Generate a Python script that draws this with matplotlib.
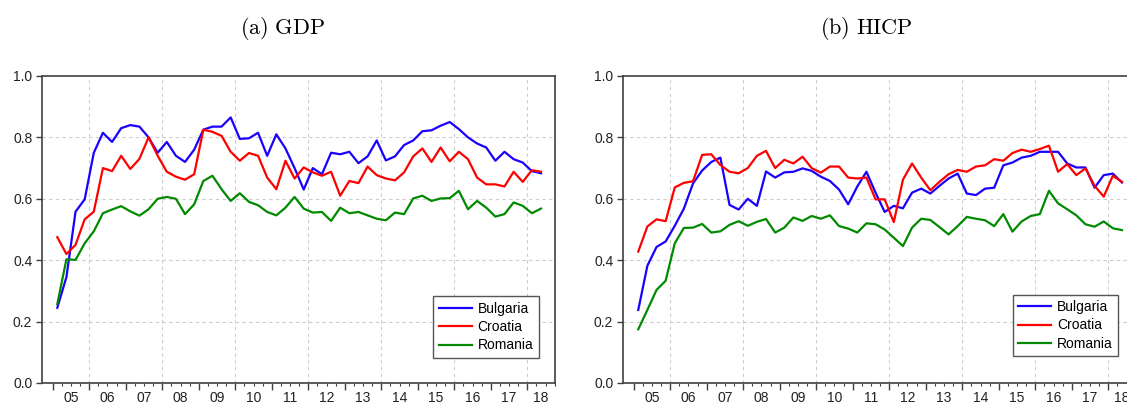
import numpy as np
import matplotlib
matplotlib.use('Agg')
import matplotlib.pyplot as plt
import matplotlib.transforms as mtransforms

plt.rcParams['font.family'] = ['Liberation Sans', 'DejaVu Sans']
plt.rcParams['mathtext.fontset'] = 'cm'

# quarterly observations 2005Q1 .. 2018Q2
start_year = 2005
n_obs = 54
year_labels = ['05', '06', '07', '08', '09', '10', '11', '12', '13', '14', '15', '16', '17', '18']
countries = ['Bulgaria', 'Croatia', 'Romania']
colors = ['#1a00ff', '#ff0000', '#008a00']

gdp_bulgaria = [0.245, 0.345, 0.558, 0.598, 0.75, 0.815, 0.785, 0.83, 0.84, 0.835,
                0.80, 0.75, 0.785, 0.74, 0.72, 0.76, 0.825, 0.835, 0.835, 0.865,
                0.795, 0.797, 0.815, 0.74, 0.81, 0.764, 0.70, 0.63, 0.70, 0.68,
                0.75, 0.745, 0.753, 0.716, 0.738, 0.79, 0.725, 0.738, 0.775, 0.79,
                0.82, 0.823, 0.838, 0.85, 0.827, 0.80, 0.78, 0.767, 0.724, 0.753,
                0.729, 0.718, 0.69, 0.683]
gdp_croatia = [0.475, 0.42, 0.45, 0.533, 0.558, 0.70, 0.69, 0.74, 0.697, 0.73,
               0.80, 0.74, 0.688, 0.672, 0.662, 0.68, 0.825, 0.818, 0.805, 0.753,
               0.724, 0.749, 0.74, 0.669, 0.631, 0.724, 0.666, 0.702, 0.686, 0.675,
               0.688, 0.61, 0.658, 0.651, 0.705, 0.677, 0.666, 0.66, 0.686, 0.738,
               0.764, 0.72, 0.767, 0.722, 0.753, 0.729, 0.669, 0.647, 0.647, 0.64,
               0.688, 0.655, 0.693, 0.688]
gdp_romania = [0.257, 0.403, 0.401, 0.455, 0.494, 0.553, 0.565, 0.576, 0.559, 0.545,
               0.566, 0.60, 0.606, 0.60, 0.55, 0.582, 0.658, 0.675, 0.631, 0.593,
               0.618, 0.59, 0.579, 0.557, 0.546, 0.571, 0.606, 0.568, 0.555, 0.557,
               0.528, 0.571, 0.553, 0.557, 0.546, 0.535, 0.530, 0.555, 0.550, 0.601,
               0.610, 0.593, 0.601, 0.602, 0.626, 0.566, 0.593, 0.571, 0.542, 0.550,
               0.588, 0.577, 0.553, 0.568]

hicp_bulgaria = [0.238, 0.382, 0.443, 0.461, 0.512, 0.568, 0.65, 0.692, 0.72, 0.734,
                 0.58, 0.565, 0.60, 0.577, 0.689, 0.669, 0.686, 0.688, 0.699, 0.691,
                 0.672, 0.658, 0.63, 0.582, 0.64, 0.688, 0.62, 0.557, 0.577, 0.569,
                 0.62, 0.633, 0.617, 0.642, 0.666, 0.682, 0.617, 0.612, 0.633, 0.636,
                 0.709, 0.718, 0.734, 0.74, 0.753, 0.753, 0.753, 0.715, 0.702, 0.702,
                 0.636, 0.677, 0.682, 0.653]
hicp_croatia = [0.428, 0.51, 0.533, 0.527, 0.637, 0.652, 0.657, 0.743, 0.745, 0.71,
                0.688, 0.683, 0.70, 0.74, 0.756, 0.70, 0.727, 0.715, 0.737, 0.70,
                0.685, 0.705, 0.705, 0.669, 0.666, 0.669, 0.598, 0.598, 0.524, 0.662,
                0.715, 0.669, 0.628, 0.655, 0.68, 0.694, 0.688, 0.705, 0.709, 0.729,
                0.724, 0.749, 0.76, 0.753, 0.762, 0.773, 0.688, 0.713, 0.677, 0.699,
                0.642, 0.607, 0.675, 0.655]
hicp_romania = [0.175, 0.238, 0.303, 0.333, 0.455, 0.505, 0.506, 0.518, 0.49, 0.494,
                0.515, 0.527, 0.512, 0.525, 0.534, 0.49, 0.506, 0.539, 0.528, 0.544,
                0.535, 0.546, 0.511, 0.503, 0.49, 0.52, 0.517, 0.50, 0.473, 0.446,
                0.506, 0.535, 0.531, 0.508, 0.484, 0.511, 0.541, 0.535, 0.53, 0.511,
                0.55, 0.493, 0.526, 0.544, 0.55, 0.626, 0.585, 0.566, 0.546, 0.517,
                0.509, 0.526, 0.504, 0.498]

panels = [
    (r'$\mathrm{(a)\ GDP}$', [gdp_bulgaria, gdp_croatia, gdp_romania]),
    (r'$\mathrm{(b)\ HICP}$', [hicp_bulgaria, hicp_croatia, hicp_romania]),
]

x_min, x_max = 2004.707, 2018.76


def draw_panel(ax, series):
    # observation at the middle of each quarter
    t = start_year + np.arange(n_obs) / 4.0 + 0.125
    for values, name, col in zip(series, countries, colors):
        ax.plot(t, values, color=col, linewidth=1.6, label=name)

    years = np.arange(start_year, start_year + len(year_labels))
    ax.set_xticks(years)
    ax.set_xticklabels([])
    # quarter ticks, from 2005Q1 to the end of the range
    ax.set_xticks(np.arange(start_year * 4, (start_year + len(year_labels)) * 4) / 4.0, minor=True)
    ax.tick_params(axis='x', which='major', direction='out', length=5, width=1.0, color='#404040')
    ax.tick_params(axis='x', which='minor', direction='out', length=2.5, width=0.8, color='#404040')
    # set limits after the ticks, set_xticks would widen them
    ax.set_xlim(x_min, x_max)
    ax.set_ylim(0.0, 1.0)

    trans = mtransforms.blended_transform_factory(ax.transData, ax.transAxes)
    for yr, lab in zip(years, year_labels):
        # label sits in the middle of the visible part of its year
        xc = (max(yr, x_min) + min(yr + 1, x_max)) / 2.0
        ax.text(xc, -0.05, lab, transform=trans, ha='center', va='center',
                fontsize=10, color='#222222')

    ax.set_yticks([0.0, 0.2, 0.4, 0.6, 0.8, 1.0])
    ax.set_yticklabels(['0.0', '0.2', '0.4', '0.6', '0.8', '1.0'])
    ax.tick_params(axis='y', direction='out', length=4, width=1.0, color='#404040',
                   labelsize=10, labelcolor='#222222', pad=3)

    for yv in [0.2, 0.4, 0.6, 0.8]:
        ax.axhline(yv, color='#cccccc', linewidth=0.8, linestyle=(0, (3, 3)), zorder=0)
    for xv in range(2006, 2019, 2):
        ax.axvline(xv, color='#cccccc', linewidth=0.8, linestyle=(0, (3, 3)), zorder=0)

    for sp in ax.spines.values():
        sp.set_color('#404040')
        sp.set_linewidth(1.2)


fig = plt.figure(figsize=(11.27, 4.08), dpi=100)
ax_left = fig.add_axes([0.0373, 0.0613, 0.4552, 0.7525])
ax_right = fig.add_axes([0.5528, 0.0613, 0.4552, 0.7525])

for ax, (title, series), anchor, tx in zip([ax_left, ax_right], panels,
                                           [(0.982, 0.059), (0.979, 0.065)],
                                           [0.251, 0.769]):
    draw_panel(ax, series)
    leg = ax.legend(loc='lower right', bbox_to_anchor=anchor, fontsize=10,
                    handlelength=2.4, labelspacing=0.3, borderpad=0.4,
                    handletextpad=0.4, fancybox=False, framealpha=1.0)
    leg.get_frame().set_edgecolor('#555555')
    leg.get_frame().set_linewidth(1.0)
    fig.text(tx, 0.931, title, ha='center', va='center', fontsize=16)

fig.savefig('out.png', dpi=100)
